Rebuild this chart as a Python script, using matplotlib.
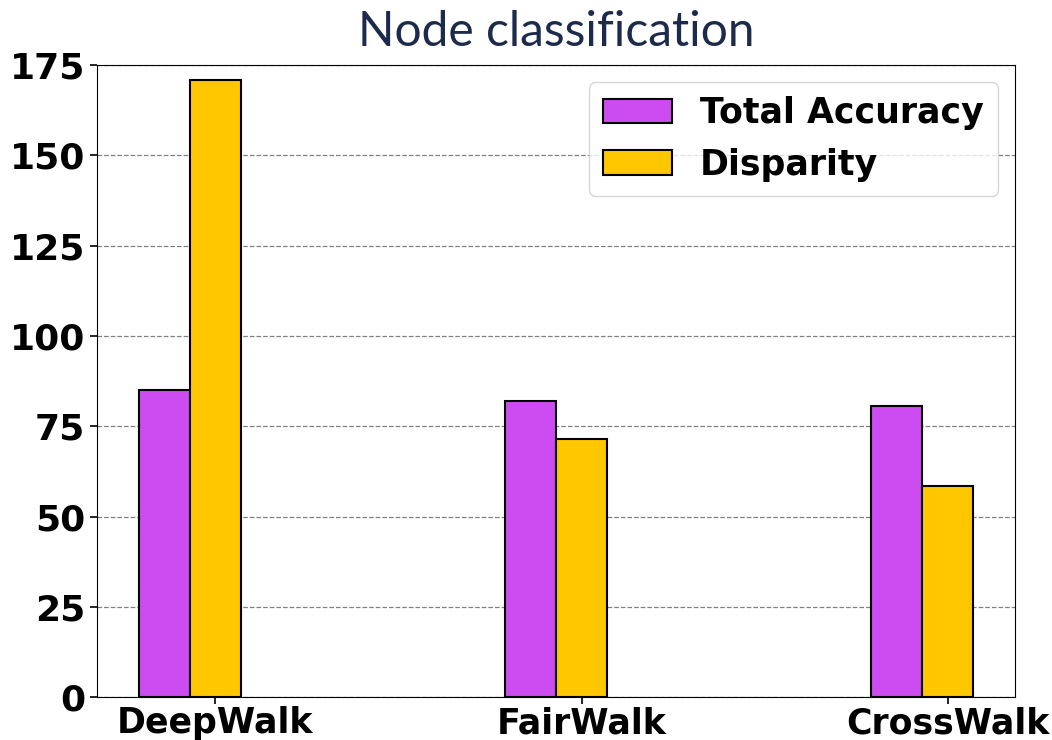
import numpy as np
import matplotlib
matplotlib.use('Agg')
import matplotlib.pyplot as plt

plt.rcParams['font.family'] = ['DejaVu Sans']

methods = ['DeepWalk', 'FairWalk', 'CrossWalk']
total_accuracy = [85.0, 82.0, 80.7]
disparity = [171.0, 71.4, 58.5]
yticks = [0, 25, 50, 75, 100, 125, 150, 175]

purple = '#CD4CF1'
gold = '#FFC700'

fig = plt.figure(figsize=(10.52, 7.4), dpi=100)
ax = fig.add_axes([0.092, 0.058, 0.873, 0.854])

x = np.arange(len(methods))
w = 0.14
ax.bar(x - w, total_accuracy, w, color=purple, edgecolor='black', linewidth=1.5,
       label='Total Accuracy', zorder=3)
ax.bar(x, disparity, w, color=gold, edgecolor='black', linewidth=1.5,
       label='Disparity', zorder=3)

ax.set_ylim(0, 175)
ax.set_yticks(yticks)
ax.set_xticks(x)
ax.set_xticklabels(methods)
ax.tick_params(width=1.2, length=5)
ax.tick_params(axis='y', labelsize=26)
ax.tick_params(axis='x', labelsize=25, pad=1.5)
for lab in ax.get_xticklabels() + ax.get_yticklabels():
    lab.set_fontweight('bold')
ax.yaxis.grid(True, linestyle='--', color='gray', linewidth=0.9, zorder=0)
ax.set_axisbelow(True)

leg = ax.legend(loc='upper right', prop={'size': 25, 'weight': 'bold'},
                fancybox=True, framealpha=0.8)

fig.text(0.529, 0.957, 'Node classification', ha='center', va='center',
         fontsize=34.5, color='#1C2B4B', family='Lato')

plt.savefig('out.png', dpi=100)
